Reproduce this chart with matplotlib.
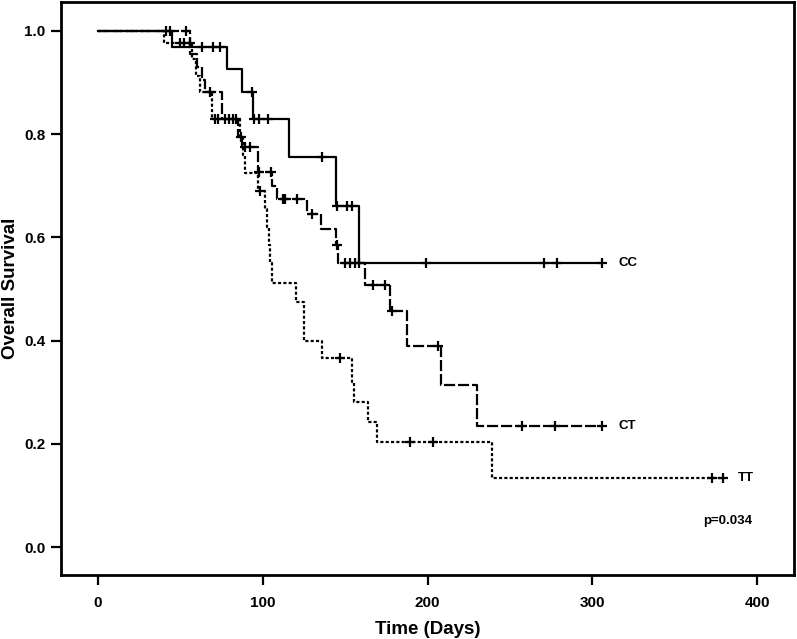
import numpy as np
import matplotlib
matplotlib.use("Agg")
import matplotlib.pyplot as plt

plt.rcParams['font.family'] = ['Liberation Sans', 'DejaVu Sans']

# ---- data ----
cc_times = [0, 44.9, 78.3, 87.4, 94.1, 115.9, 144.4, 158.4]
cc_surv = [1.0, 0.969, 0.926, 0.882, 0.830, 0.756, 0.660, 0.551]
cc_end = 305.8
cc_cens = [41.3, 43.7, 63.1, 69.8, 74.0, 93.4, 94.7, 97.7, 103.2, 135.9, 145.0,
           151.1, 154.1, 158.4, 199.0, 270.6, 278.5, 305.8]

ct_times = [0, 55.8, 60.0, 63.0, 65.0, 75.2, 85.0, 87.4, 97.1, 105.3, 108.6,
            126.8, 135.3, 144.7, 145.6, 162.0, 177.2, 187.5, 208.1, 230.0]
ct_surv = [1.0, 0.955, 0.930, 0.905, 0.882, 0.830, 0.795, 0.775, 0.727, 0.700,
           0.675, 0.646, 0.617, 0.585, 0.551, 0.508, 0.457, 0.390, 0.314, 0.234]
ct_end = 305.8
ct_cens = [53.4, 68.0, 77.0, 79.5, 82.0, 83.7, 86.5, 89.2, 92.2, 97.7, 105.0,
           112.3, 113.5, 120.8, 129.9, 145.0, 149.9, 152.9, 156.0, 166.9, 174.2,
           178.4, 206.3, 257.3, 277.3, 305.8]

tt_times = [0, 40.0, 57.0, 59.5, 62.0, 69.2, 86.2, 88.0, 89.2, 97.1, 101.3,
            102.5, 103.5, 104.4, 105.6, 120.1, 125.0, 135.9, 154.1, 155.3,
            163.8, 169.3, 239.1]
tt_surv = [1.0, 0.977, 0.945, 0.913, 0.882, 0.830, 0.795, 0.760, 0.725, 0.689,
           0.655, 0.620, 0.585, 0.550, 0.511, 0.474, 0.400, 0.366, 0.319, 0.282,
           0.242, 0.203, 0.135]
tt_end = 379.2
tt_cens = [49.8, 52.2, 55.8, 71.0, 72.8, 98.3, 146.8, 189.3, 203.3, 372.6, 379.2]

groups = ["CC", "CT", "TT"]
p_text = "p=0.034"

fig = plt.figure(figsize=(7.97, 6.39), dpi=100)
ax = fig.add_axes([0.0765, 0.100, 0.9195, 0.897])

def value_at(times, surv, t):
    idx = np.searchsorted(times, t, side='right') - 1
    return surv[max(idx, 0)]

styles = {
    "CC": dict(linestyle='-'),
    "CT": dict(linestyle=(0, (5, 1.3))),
    "TT": dict(linestyle=(0, (1.4, 1.0))),
}
series = {
    "CC": (cc_times, cc_surv, cc_end, cc_cens),
    "CT": (ct_times, ct_surv, ct_end, ct_cens),
    "TT": (tt_times, tt_surv, tt_end, tt_cens),
}

for g in groups:
    times, surv, end, cens = series[g]
    xs = list(times) + [end]
    ys = list(surv) + [surv[-1]]
    ax.step(xs, ys, where='post', color='black', lw=1.6, **styles[g])
    cy = [value_at(np.array(times), surv, c) for c in cens]
    ax.plot(cens, cy, linestyle='none', marker='+', color='black',
            markersize=7, mew=1.6)

# end labels
ax.text(cc_end + 10, cc_surv[-1], "CC", fontsize=9.5, fontweight='bold',
        va='center', ha='left')
ax.text(ct_end + 10, ct_surv[-1], "CT", fontsize=9.5, fontweight='bold',
        va='center', ha='left')
ax.text(tt_end + 9, tt_surv[-1], "TT", fontsize=9.5, fontweight='bold',
        va='center', ha='left')
ax.text(382, 0.05, p_text, fontsize=9.5, fontweight='bold', ha='center', va='center')

ax.set_xlim(-22.5, 422.3)
ax.set_ylim(-0.054, 1.056)
ax.set_xticks([0, 100, 200, 300, 400])
ax.set_yticks([0.0, 0.2, 0.4, 0.6, 0.8, 1.0])
ax.set_yticklabels(["0.0", "0.2", "0.4", "0.6", "0.8", "1.0"])
ax.tick_params(direction='out', length=7, width=1.6, labelsize=11)
ax.tick_params(axis='y', pad=4)
ax.tick_params(axis='x', pad=8)
for lab in ax.get_xticklabels() + ax.get_yticklabels():
    lab.set_fontweight('bold')
for s in ax.spines.values():
    s.set_linewidth(2)

ax.set_xlabel("Time (Days)", fontsize=13.5, fontweight='bold', labelpad=8)
ax.set_ylabel("Overall Survival", fontsize=13.5, fontweight='bold', labelpad=4)

fig.savefig("out.png", dpi=100)
